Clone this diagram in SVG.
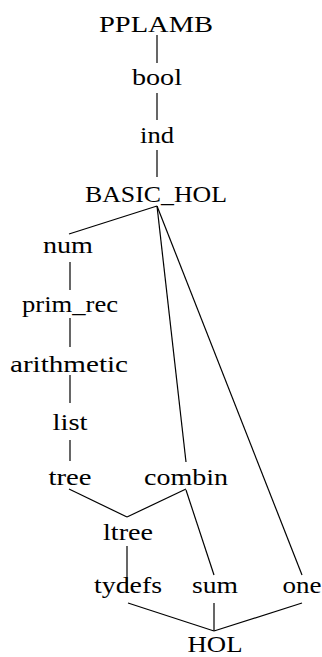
<svg xmlns="http://www.w3.org/2000/svg" width="322" height="657" viewBox="0 0 322 657">
<style>
.n text{font-size:24px;fill:#000;text-anchor:middle}
.e line{stroke:#000;stroke-width:1.2;fill:none}
</style>
<rect width="322" height="657" fill="#fff"/>
<g class="e" id="connectors">
<line x1="157" y1="35" x2="157" y2="63"/>
<line x1="157" y1="93" x2="157" y2="120"/>
<line x1="157" y1="150" x2="157" y2="177"/>
<line x1="157" y1="206" x2="69" y2="234"/>
<line x1="157" y1="206" x2="186" y2="462"/>
<line x1="157" y1="206" x2="302" y2="575"/>
<line x1="70" y1="262" x2="70" y2="290"/>
<line x1="70" y1="318" x2="70" y2="347"/>
<line x1="70" y1="375" x2="70" y2="403"/>
<line x1="70" y1="440" x2="70" y2="461"/>
<line x1="69" y1="489" x2="127" y2="517"/>
<line x1="186" y1="489" x2="127" y2="517"/>
<line x1="186" y1="490" x2="214" y2="575"/>
<line x1="127" y1="546" x2="127" y2="593"/>
<line x1="128" y1="603" x2="214" y2="631"/>
<line x1="214" y1="603" x2="214" y2="631"/>
<line x1="302" y1="603" x2="214" y2="631"/>
</g>
<g class="n" font-family="Liberation Serif, DejaVu Serif, serif">
<g id="PPLAMB"><text x="156" y="32" textLength="114" lengthAdjust="spacingAndGlyphs">PPLAMB</text></g>
<g id="bool"><text x="157" y="85" textLength="50" lengthAdjust="spacingAndGlyphs">bool</text></g>
<g id="ind"><text x="157" y="143" textLength="34" lengthAdjust="spacingAndGlyphs">ind</text></g>
<g id="BASIC_HOL"><text x="156" y="202" textLength="142" lengthAdjust="spacingAndGlyphs">BASIC_HOL</text></g>
<g id="num"><text x="68" y="253" textLength="50" lengthAdjust="spacingAndGlyphs">num</text></g>
<g id="prim_rec"><text x="70" y="312" textLength="96" lengthAdjust="spacingAndGlyphs">prim_rec</text></g>
<g id="arithmetic"><text x="69" y="372" textLength="118" lengthAdjust="spacingAndGlyphs">arithmetic</text></g>
<g id="list"><text x="70" y="430" textLength="35" lengthAdjust="spacingAndGlyphs">list</text></g>
<g id="tree"><text x="70" y="485" textLength="43" lengthAdjust="spacingAndGlyphs">tree</text></g>
<g id="combin"><text x="186" y="485" textLength="84" lengthAdjust="spacingAndGlyphs">combin</text></g>
<g id="ltree"><text x="128" y="540" textLength="50" lengthAdjust="spacingAndGlyphs">ltree</text></g>
<g id="tydefs"><text x="128" y="593" textLength="68" lengthAdjust="spacingAndGlyphs">tydefs</text></g>
<g id="sum"><text x="215" y="593" textLength="46" lengthAdjust="spacingAndGlyphs">sum</text></g>
<g id="one"><text x="302" y="593" textLength="39" lengthAdjust="spacingAndGlyphs">one</text></g>
<g id="HOL"><text x="215" y="652" textLength="55" lengthAdjust="spacingAndGlyphs">HOL</text></g>
</g>
</svg>
